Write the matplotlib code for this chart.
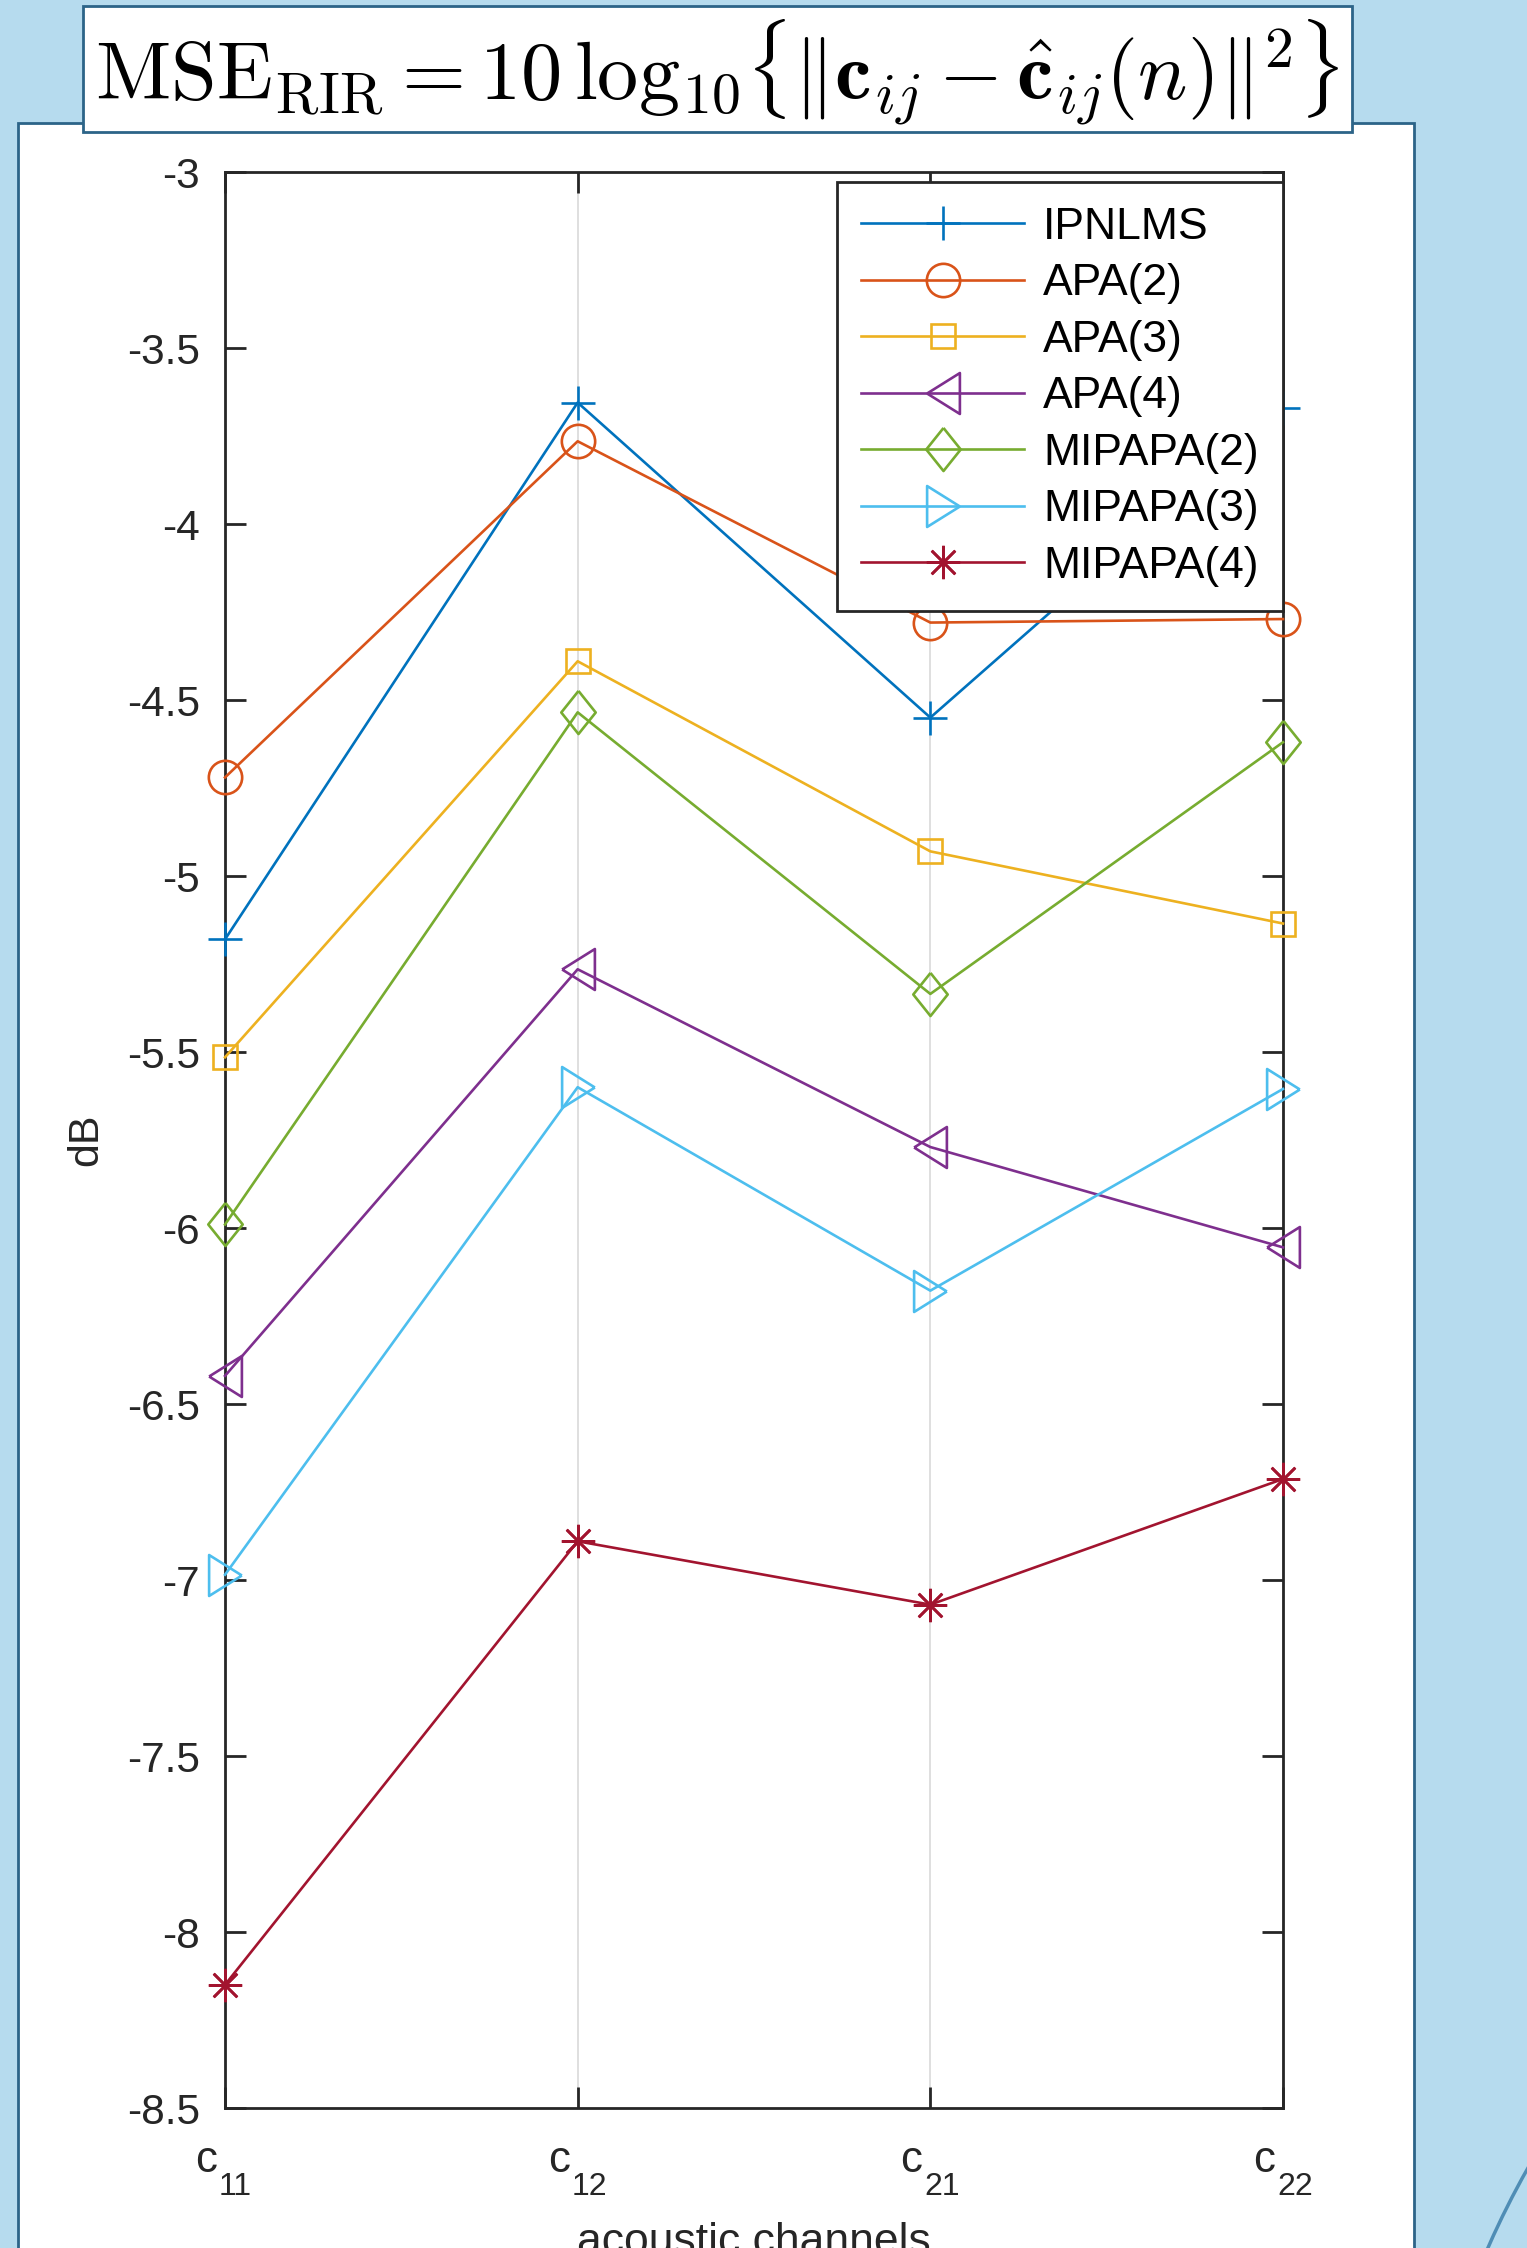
#!/usr/bin/env python3
# -*- coding: utf-8 -*-
import matplotlib
matplotlib.use("Agg")
import matplotlib.pyplot as plt
from matplotlib.patches import Rectangle, Circle
from matplotlib.ticker import FormatStrFormatter

# data (dB)
channel_letter = "c"
channel_subs = ["11", "12", "21", "22"]
names = ["IPNLMS", "APA(2)", "APA(3)", "APA(4)",
         "MIPAPA(2)", "MIPAPA(3)", "MIPAPA(4)"]
ipnlms = [-5.18, -3.655, -4.55, -3.67]
apa2 = [-4.72, -3.765, -4.28, -4.27]
apa3 = [-5.515, -4.39, -4.93, -5.135]
apa4 = [-6.42, -5.265, -5.77, -6.055]
mipapa2 = [-5.99, -4.535, -5.335, -4.62]
mipapa3 = [-6.985, -5.60, -6.178, -5.605]
mipapa4 = [-8.15, -6.89, -7.07, -6.713]
yticks = [-3, -3.5, -4, -4.5, -5, -5.5, -6, -6.5, -7, -7.5, -8, -8.5]

# matlab default colours
colors = ["#0072BD", "#D95319", "#EDB120", "#7E2F8E",
          "#77AC30", "#4DBEEE", "#A2142F"]
tri_left = [(-0.4, 0), (0.4, 0.5), (0.4, -0.5), (-0.4, 0)]
tri_right = [(0.4, 0), (-0.4, 0.5), (-0.4, -0.5), (0.4, 0)]
diamond = [(0, 0.5), (0.4, 0), (0, -0.5), (-0.4, 0), (0, 0.5)]
markers = ["+", "o", "s", tri_left, diamond, tri_right, (8, 2, 0)]
msizes = [24, 24, 17, 29.5, 31, 29.5, 24]

plt.rcParams["font.family"] = ["Liberation Sans", "DejaVu Sans"]
plt.rcParams["axes.unicode_minus"] = False

W, H = 1527, 2248
TXT = "#262626"
fig = plt.figure(figsize=(W / 100, H / 100), dpi=100)
fig.patch.set_facecolor("#B6DBEE")

# slide background drawn in pixel coords
bg = fig.add_axes([0, 0, 1, 1], zorder=-1)
bg.set_xlim(0, W)
bg.set_ylim(H, 0)
bg.axis("off")
bg.add_patch(Circle((2290, 2600), 876, facecolor="#B6DBEE",
                    edgecolor="#4F8DB5", lw=2.5))
bg.add_patch(Rectangle((17.5, 123), 1396.5, 2200, facecolor="white",
                       edgecolor="#2C6488", lw=2))
bg.add_patch(Rectangle((83, 6), 1269, 126, facecolor="white",
                       edgecolor="#2C6488", lw=2))
bg.text(717, 72,
        r"$\mathrm{MSE}_{\mathrm{RIR}} = 10\,\log_{10}\!\{\|\mathbf{c}_{ij}"
        r" - \hat{\mathbf{c}}_{ij}(n)\|^2\}$",
        ha="center", va="center", fontsize=59.3, math_fontfamily="cm")
bg.text(86, 1140, "dB", rotation=90, ha="center", va="center",
        fontsize=31, color=TXT)
bg.text(754, 2222, "acoustic channels", ha="center", va="top",
        fontsize=32, color=TXT)

ax = fig.add_axes([225 / W, 1 - 2108 / H, 1058 / W, 1936 / H])
x = [1, 2, 3, 4]
series = [ipnlms, apa2, apa3, apa4, mipapa2, mipapa3, mipapa4]
for name, vals, c, m, ms in zip(names, series, colors, markers, msizes):
    ax.plot(x, vals, color=c, marker=m, ms=ms, mfc="none", mec=c,
            mew=1.9, lw=1.9, clip_on=False, label=name, zorder=3)

ax.set_xlim(1, 4)
ax.set_ylim(-8.5, -3)
ax.set_xticks(x)
ax.set_xticklabels([])
# tex style labels c_{ij}: letter plus a low subscript
for xi, sub in zip(x, channel_subs):
    ax.annotate(channel_letter, (xi, 0), xycoords=("data", "axes fraction"),
                xytext=(-8, -64), textcoords="offset pixels",
                ha="right", va="baseline", fontsize=31.5, color=TXT)
    ax.annotate(sub, (xi, 0), xycoords=("data", "axes fraction"),
                xytext=(-6, -87), textcoords="offset pixels",
                ha="left", va="baseline", fontsize=23, color=TXT)
ax.set_yticks(yticks)
ax.yaxis.set_major_formatter(FormatStrFormatter("%g"))
ax.tick_params(direction="in", length=15, width=2.0, colors=TXT,
               labelsize=30.5, top=True, right=True)
ax.tick_params(axis="y", pad=18)
for s in ax.spines.values():
    s.set_linewidth(2.0)
    s.set_color(TXT)
ax.grid(axis="x", color="#DFDFDF", lw=1.4)
ax.set_axisbelow(True)

leg = ax.legend(loc="upper right", bbox_to_anchor=(1.0, 0.9948),
                fontsize=32, handlelength=3.67, handletextpad=0.42,
                labelspacing=0.35, borderpad=0.55, borderaxespad=0,
                fancybox=False, framealpha=1)
leg.get_frame().set_edgecolor(TXT)
leg.get_frame().set_linewidth(2.0)

fig.savefig("out.png", dpi=100, facecolor=fig.get_facecolor())
